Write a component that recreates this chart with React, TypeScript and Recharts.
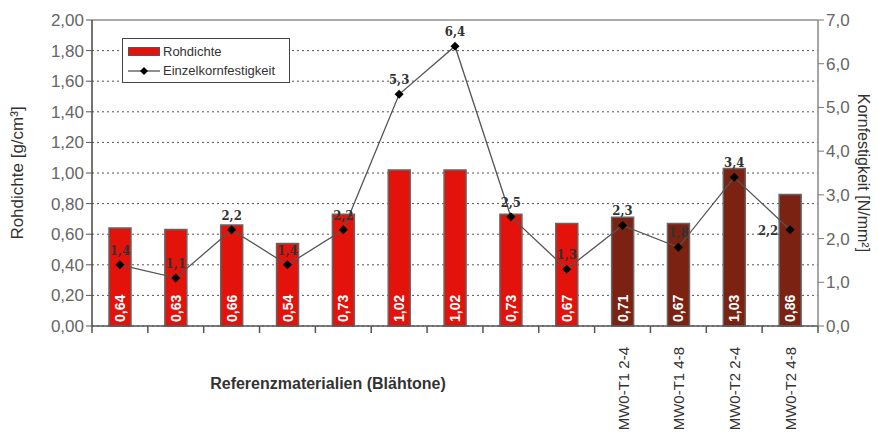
// Rohdichte (bars) vs. Einzelkornfestigkeit (line) for expanded clay reference materials.

import {
  Bar,
  CartesianGrid,
  Cell,
  ComposedChart,
  LabelList,
  Legend,
  Line,
  ReferenceLine,
  XAxis,
  YAxis,
} from "recharts";

const W = 878;
const H = 439;
const PLOT_LEFT = 92;
const PLOT_RIGHT = 818;

const categories = [
  "R1", "R2", "R3", "R4", "R5", "R6", "R7", "R8", "R9",
  "MW0-T1 2-4", "MW0-T1 4-8", "MW0-T2 2-4", "MW0-T2 4-8",
];
const tickLabels = [
  "", "", "", "", "", "", "", "", "",
  "MW0-T1 2-4", "MW0-T1 4-8", "MW0-T2 2-4", "MW0-T2 4-8",
];
const rohdichte = [0.64, 0.63, 0.66, 0.54, 0.73, 1.02, 1.02, 0.73, 0.67, 0.71, 0.67, 1.03, 0.86];
const festigkeit = [1.4, 1.1, 2.2, 1.4, 2.2, 5.3, 6.4, 2.5, 1.3, 2.3, 1.8, 3.4, 2.2];
const isReference = [true, true, true, true, true, true, true, true, true, false, false, false, false];
const leftTicks = [0, 0.2, 0.4, 0.6, 0.8, 1.0, 1.2, 1.4, 1.6, 1.8, 2.0];
const rightTicks = [0, 1, 2, 3, 4, 5, 6, 7];

const data = categories.map((name, i) => ({
  name,
  rohdichte: rohdichte[i],
  festigkeit: festigkeit[i],
}));

const RED = "#e3120b";
const BROWN = "#7b2212";
const FONT = "'Liberation Sans', Arial, sans-serif";
const BAND = (PLOT_RIGHT - PLOT_LEFT) / categories.length;

const comma = (v: number, digits: number) => v.toFixed(digits).replace(".", ",");

function XTick(props: any) {
  const { x, y, index } = props;
  const label = tickLabels[index] ?? "";
  return (
    <g>
      <line x1={x - BAND / 2} x2={x - BAND / 2} y1={y - 8} y2={y - 1} stroke="#555" strokeWidth={1.5} />
      {index === categories.length - 1 && (
        <line x1={x + BAND / 2} x2={x + BAND / 2} y1={y - 8} y2={y - 1} stroke="#555" strokeWidth={1.5} />
      )}
      {label && (
        <text
          x={x}
          y={y + 7}
          transform={`rotate(-90, ${x + 6}, ${y + 7})`}
          textAnchor="end"
          fill="#333"
          fontSize={15}
          fontFamily={FONT}
        >
          {label}
        </text>
      )}
    </g>
  );
}

function Diamond(props: any) {
  const { cx, cy, index } = props;
  if (cx == null || cy == null) return <g key={index} />;
  const s = 4.5;
  return (
    <polygon
      key={index}
      points={`${cx},${cy - s} ${cx + s},${cy} ${cx},${cy + s} ${cx - s},${cy}`}
      fill="#000"
    />
  );
}

function BarValue(props: any) {
  const { x, y, width, height, value } = props;
  const cx = x + width / 2 + 5;
  const by = y + height - 4;
  return (
    <text
      x={cx}
      y={by}
      transform={`rotate(-90, ${cx}, ${by})`}
      textAnchor="start"
      fill="#fff"
      fontSize={14}
      fontWeight="bold"
      fontFamily="'Liberation Sans Narrow', 'Liberation Sans', Arial, sans-serif"
    >
      {comma(value, 2)}
    </text>
  );
}

function LineValue(props: any) {
  const { x, y, value, index } = props;
  const last = index === categories.length - 1;
  return (
    <text
      x={last ? x - 22 : x}
      y={last ? y + 5 : y - 10}
      textAnchor="middle"
      fill="#333"
      fontSize={13}
      fontWeight="bold"
      fontFamily="'DejaVu Serif Condensed', 'DejaVu Serif', serif"
    >
      {comma(value, 1)}
    </text>
  );
}

function LegendBox() {
  return (
    <div
      style={{
        width: 168,
        height: 45,
        border: "1.5px solid #444",
        background: "#fff",
        fontFamily: FONT,
        fontSize: 13,
        color: "#333",
        boxSizing: "border-box",
        paddingTop: 3,
      }}
    >
      <div style={{ display: "flex", alignItems: "center", height: 19 }}>
        <span style={{ display: "inline-block", width: 30, height: 7, background: RED, border: "1px solid #555", marginLeft: 5, marginRight: 3 }} />
        Rohdichte
      </div>
      <div style={{ display: "flex", alignItems: "center", height: 19 }}>
        <svg width={32} height={10} style={{ marginLeft: 5, marginRight: 3 }}>
          <line x1={0} x2={32} y1={5} y2={5} stroke="#444" strokeWidth={1.2} />
          <polygon points="16,1 20,5 16,9 12,5" fill="#000" />
        </svg>
        Einzelkornfestigkeit
      </div>
    </div>
  );
}

export default function App() {
  return (
    <div style={{ position: "absolute", left: 0, top: 0, background: "#fff" }}>
      <ComposedChart width={W} height={H} data={data} margin={{ top: 20, right: 0, left: 0, bottom: 0 }}>
        <CartesianGrid vertical={false} stroke="#555" strokeDasharray="2 3" yAxisId="left" />
        <XAxis
          dataKey="name"
          height={113}
          tick={<XTick />}
          tickLine={false}
          interval={0}
          axisLine={{ stroke: "#555", strokeWidth: 1.5 }}
          label={{
            content: (p: any) => (
              <text
                x={p.viewBox.x + 236}
                y={p.viewBox.y + 63}
                textAnchor="middle"
                fill="#333"
                fontSize={16}
                fontWeight="bold"
                fontFamily={FONT}
              >
                Referenzmaterialien (Blähtone)
              </text>
            ),
          }}
        />
        <YAxis
          yAxisId="left"
          width={92}
          domain={[0, 2]}
          ticks={leftTicks}
          interval={0}
          tickFormatter={(v: number) => comma(v, 2)}
          tick={{ fill: "#666", fontSize: 17, fontFamily: FONT }}
          tickLine={{ stroke: "#555" }}
          tickSize={6}
          axisLine={{ stroke: "#444", strokeWidth: 1.5 }}
          label={{
            value: "Rohdichte [g/cm³]",
            angle: -90,
            position: "insideLeft",
            offset: 17,
            style: { fill: "#333", fontSize: 17, fontFamily: FONT, textAnchor: "middle" },
          }}
        />
        <YAxis
          yAxisId="right"
          orientation="right"
          width={60}
          domain={[0, 7]}
          ticks={rightTicks}
          interval={0}
          tickFormatter={(v: number) => comma(v, 1)}
          tick={{ fill: "#666", fontSize: 17, fontFamily: FONT }}
          tickLine={{ stroke: "#777" }}
          tickSize={6}
          axisLine={{ stroke: "#888", strokeWidth: 1.5 }}
          label={{
            value: "Kornfestigkeit [N/mm²]",
            angle: 90,
            position: "insideRight",
            offset: 14,
            style: { fill: "#333", fontSize: 16, fontFamily: FONT, textAnchor: "middle" },
          }}
        />
        <ReferenceLine yAxisId="left" y={2} stroke="#aaa" strokeWidth={2} />
        <Legend
          layout="vertical"
          align="center"
          verticalAlign="middle"
          content={() => <LegendBox />}
          wrapperStyle={{ position: "absolute", left: 122, top: 38, width: 170, height: 47 }}
        />
        <Bar
          yAxisId="left"
          dataKey="rohdichte"
          name="Rohdichte"
          barSize={22}
          stroke="#666"
          strokeWidth={1.5}
          isAnimationActive={false}
        >
          {data.map((_, i) => (
            <Cell key={i} fill={isReference[i] ? RED : BROWN} />
          ))}
          <LabelList dataKey="rohdichte" content={<BarValue />} />
        </Bar>
        <Line
          yAxisId="right"
          dataKey="festigkeit"
          name="Einzelkornfestigkeit"
          stroke="#555"
          strokeWidth={1.3}
          dot={(p: any) => <Diamond key={p.index} {...p} />}
          activeDot={false}
          isAnimationActive={false}
        >
          <LabelList dataKey="festigkeit" content={<LineValue />} />
        </Line>
      </ComposedChart>
    </div>
  );
}
